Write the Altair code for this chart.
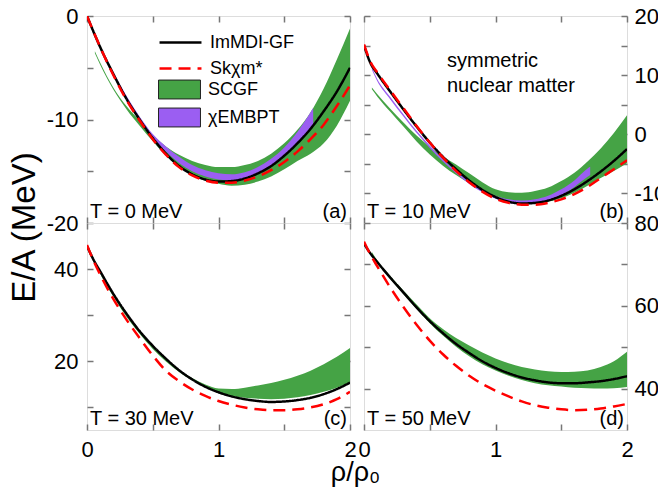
import altair as alt
import pandas as pd

# ---------------- data ----------------
RHO = [0.0, 0.1, 0.2, 0.3, 0.4, 0.5, 0.6, 0.7, 0.8, 0.9, 1.0,
       1.1, 1.2, 1.3, 1.4, 1.5, 1.6, 1.7, 1.8, 1.9, 2.0]
RHO_T = [0.0, 0.05, 0.1, 0.2, 0.3, 0.4, 0.5, 0.6, 0.7, 0.8, 0.9, 1.0,
         1.1, 1.2, 1.3, 1.4, 1.5, 1.6, 1.7, 1.8, 1.9, 2.0]

MODELS = ["ImMDI-GF", "Skχm*"]
BANDS = ["SCGF", "χEMBPT"]
TEMPS = ["T = 0 MeV", "T = 10 MeV", "T = 30 MeV", "T = 50 MeV"]
TAGS = ["(a)", "(b)", "(c)", "(d)"]
NOTE = ["symmetric", "nuclear matter"]

# (a) T = 0
A_IMMDI = [0.0, -3.0, -5.6, -8.0, -10.0, -11.8, -13.3, -14.5, -15.3, -15.8, -16.0,
           -15.95, -15.7, -15.2, -14.5, -13.5, -12.3, -10.9, -9.2, -7.3, -5.0]
A_SKCHI = [0.0, -3.0, -5.7, -8.1, -10.1, -11.9, -13.4, -14.6, -15.4, -15.9, -16.1,
           -16.1, -15.9, -15.5, -14.9, -14.1, -13.1, -11.9, -10.5, -8.7, -6.7]
A_SCGF_X = [0.06, 0.1, 0.2, 0.3, 0.4, 0.5, 0.6, 0.7, 0.8, 0.9, 1.0,
            1.1, 1.2, 1.3, 1.4, 1.5, 1.6, 1.7, 1.8, 1.9, 2.0]
A_SCGF_LO = [-3.6, -4.7, -7.1, -9.0, -10.6, -12.1, -13.5, -14.6, -15.4, -15.9, -16.2,
             -16.4, -16.3, -16.0, -15.5, -14.8, -14.0, -13.3, -12.3, -10.6, -8.2]
A_SCGF_HI = [-3.4, -4.5, -6.9, -8.7, -10.1, -11.5, -12.6, -13.4, -14.0, -14.4, -14.6,
             -14.6, -14.4, -14.0, -13.3, -12.3, -11.0, -9.3, -7.0, -4.2, -1.2]
A_CHI_X = [0.03, 0.1, 0.2, 0.3, 0.4, 0.5, 0.6, 0.7, 0.8, 0.9, 1.0,
           1.1, 1.2, 1.3, 1.4, 1.5, 1.6, 1.7, 1.72]
A_CHI_LO = [-1.1, -3.1, -5.7, -8.0, -10.0, -11.8, -13.1, -14.2, -15.0, -15.5, -15.8,
            -15.9, -15.7, -15.2, -14.5, -13.5, -12.2, -10.9, -10.6]
A_CHI_HI = [-0.9, -2.9, -5.4, -7.7, -9.7, -11.4, -12.6, -13.6, -14.4, -14.9, -15.2,
            -15.3, -15.1, -14.6, -13.8, -12.7, -11.2, -9.3, -8.9]

# (b) T = 10
B_IMMDI = [15.0, 12.0, 10.3, 7.2, 4.2, 1.3, -1.4, -3.8, -5.9, -7.8, -9.4, -10.6,
           -11.4, -11.7, -11.6, -11.2, -10.4, -9.3, -7.9, -6.3, -4.5, -2.5]
B_SKCHI = [15.2, 12.2, 10.5, 7.4, 4.4, 1.4, -1.4, -3.9, -6.2, -8.1, -9.7, -10.9,
           -11.6, -11.9, -11.9, -11.6, -11.0, -10.1, -8.9, -7.4, -5.9, -4.4]
B_SCGF_X = [0.06, 0.1, 0.2, 0.3, 0.4, 0.5, 0.6, 0.7, 0.8, 0.9, 1.0,
            1.1, 1.2, 1.3, 1.4, 1.5, 1.6, 1.7, 1.8, 1.9, 2.0]
B_SCGF_LO = [7.6, 6.4, 3.8, 1.3, -1.2, -3.4, -5.3, -6.9, -8.3, -9.6, -10.7,
             -11.4, -11.8, -11.8, -11.4, -10.8, -9.9, -8.7, -7.4, -6.2, -4.9]
B_SCGF_HI = [7.9, 6.8, 4.3, 2.0, -0.2, -2.1, -3.7, -5.1, -6.6, -8.1, -9.3,
             -9.8, -9.9, -9.6, -9.0, -7.9, -6.5, -4.6, -2.4, 0.2, 3.2]
B_CHI_X = [0.06, 0.1, 0.2, 0.3, 0.4, 0.5, 0.6, 0.7, 0.8, 0.9, 1.0,
           1.1, 1.2, 1.3, 1.4, 1.5, 1.6, 1.7, 1.72]
B_CHI_LO = [10.9, 9.0, 5.9, 3.0, 0.2, -2.3, -4.6, -6.6, -8.4, -9.8, -10.9,
            -11.6, -11.8, -11.7, -11.2, -10.3, -8.9, -7.2, -6.9]
B_CHI_HI = [11.3, 9.4, 6.3, 3.4, 0.6, -1.9, -4.2, -6.2, -7.9, -9.3, -10.4,
            -11.0, -11.2, -11.0, -10.4, -9.3, -7.8, -5.8, -5.5]

# (c) T = 30
C_IMMDI = [45.0, 42.0, 39.5, 34.6, 30.3, 26.5, 23.3, 20.5, 18.0, 16.0, 14.4, 13.2,
           12.3, 11.7, 11.3, 11.1, 11.2, 11.5, 12.0, 12.8, 13.9, 15.3]
C_SKCHI = [45.2, 41.8, 38.8, 33.5, 29.0, 25.0, 21.2, 17.9, 15.6, 13.8, 12.4, 11.3,
           10.5, 9.9, 9.5, 9.3, 9.3, 9.5, 9.9, 10.6, 11.7, 13.3]
C_SCGF_X = [0.08, 0.1, 0.2, 0.3, 0.4, 0.5, 0.6, 0.7, 0.8, 0.9, 1.0,
            1.1, 1.2, 1.3, 1.4, 1.5, 1.6, 1.7, 1.8, 1.9, 2.0]
C_SCGF_LO = [40.3, 39.0, 34.0, 29.6, 25.9, 22.6, 19.9, 17.6, 15.8, 14.4, 13.0,
             12.4, 12.0, 11.8, 11.7, 11.8, 12.1, 12.6, 13.3, 14.2, 15.3]
C_SCGF_HI = [40.6, 39.3, 34.4, 30.1, 26.4, 23.1, 20.4, 18.1, 16.3, 14.9, 14.0,
             13.9, 14.2, 14.7, 15.2, 15.9, 16.8, 17.9, 19.3, 20.9, 22.8]

# (d) T = 50
D_IMMDI = [75.0, 72.6, 70.6, 66.8, 63.2, 59.6, 56.3, 53.4, 50.8, 48.6, 46.6, 45.0,
           43.7, 42.7, 42.0, 41.5, 41.3, 41.3, 41.5, 41.8, 42.3, 43.0]
D_SKCHI = [75.5, 72.3, 69.6, 64.4, 59.7, 55.4, 51.6, 48.3, 45.5, 43.1, 41.1, 39.5,
           38.1, 36.9, 36.0, 35.4, 35.0, 34.8, 34.9, 35.2, 35.7, 36.3]
D_SCGF_X = [0.06, 0.1, 0.2, 0.3, 0.4, 0.5, 0.6, 0.7, 0.8, 0.9, 1.0,
            1.1, 1.2, 1.3, 1.4, 1.5, 1.6, 1.7, 1.8, 1.9, 2.0]
D_SCGF_LO = [72.5, 70.4, 66.5, 62.8, 59.2, 55.8, 52.8, 50.1, 47.8, 45.9, 44.4,
             43.1, 42.1, 41.3, 40.8, 40.5, 40.2, 40.1, 40.0, 40.1, 40.4]
D_SCGF_HI = [73.0, 71.0, 67.2, 63.7, 60.3, 57.0, 54.4, 52.2, 50.4, 48.7, 47.3,
             46.1, 45.2, 44.6, 44.2, 44.0, 44.1, 44.4, 45.2, 46.6, 48.9]

# ---------------- styling ----------------
FONT = "Liberation Sans"
AX = "#777777"
GREEN = "#45a345"
PURPLE = "#9b5ef2"
LINE_COLORS = ["#000000", "#ff0000"]
DASHES = [[1, 0], [12, 7]]
W, H = 263, 207
XTICKS = [0, 0.5, 1, 1.5, 2]
LINE_SYMBOL = "M-2.33,0H2.33"
BOX_SYMBOL = "M-2.33,-1.05H2.33V1.05H-2.33Z"


def lines_frame(xs, immdi, skchi):
    rows = []
    for name, ys in zip(MODELS, [immdi, skchi]):
        for x, y in zip(xs, ys):
            rows.append({"x": x, "E": y, "model": name})
    return pd.DataFrame(rows)


def bands_frame(parts):
    rows = []
    for name, (xs, lo, hi) in parts:
        for x, a, b in zip(xs, lo, hi):
            rows.append({"x": x, "lo": a, "hi": b, "band": name})
    return pd.DataFrame(rows)


def axis(orient, values, show_labels, expr, pad=9, **extra):
    return alt.Axis(
        orient=orient, values=values, labels=show_labels, labelExpr=expr,
        domain=False, grid=False, ticks=True, tickSize=6, offset=-6,
        tickColor=AX, tickWidth=1.5, labelFont=FONT, labelFontSize=22,
        labelColor="black", labelPadding=pad, labelFlush=False,
        labelOverlap=False, labelBound=False, **extra)


def panel(i, lines, bands, ydom, yvals, ystep, left_col, bottom_row,
          with_legend=False, ytitle=False, xtitle=False, note=False):
    xs = alt.Scale(domain=[0, 2], nice=False, zero=False)
    ys = alt.Scale(domain=ydom, nice=False, zero=False)
    xexpr = "datum.value == round(datum.value) ? '' + datum.value : ''"
    yexpr = f"datum.value % {ystep} == 0 ? '' + datum.value : ''"

    if xtitle:
        ax_b = axis("bottom", XTICKS, bottom_row, xexpr, title="ρ/ρ₀",
                    titleFont=FONT, titleFontSize=27, titleFontWeight="normal",
                    titleColor="black", titleX=268, titleY=56,
                    titleAlign="center", titleBaseline="alphabetic")
    else:
        ax_b = axis("bottom", XTICKS, bottom_row, xexpr, title=None)
    ax_t = axis("top", XTICKS, False, xexpr, title=None)
    if ytitle:
        ax_l = axis("left", yvals, left_col, yexpr, title="E/A (MeV)",
                    titleFont=FONT, titleFontSize=33, titleFontWeight="normal",
                    titleColor="black", titleAngle=270, titleX=-59, titleY=211,
                    titleAlign="center", titleBaseline="alphabetic")
    else:
        ax_l = axis("left", yvals, left_col, yexpr, title=None)
    ax_r = axis("right", yvals, not left_col, yexpr, pad=7, title=None)

    if with_legend:
        common_leg = dict(orient="none", legendX=83, title=None, symbolSize=324,
                          labelFont=FONT, labelFontSize=18, labelColor="black",
                          labelOffset=19, padding=0)
        fill_enc = alt.Fill(
            "band:N", scale=alt.Scale(domain=BANDS, range=[GREEN, PURPLE]),
            legend=alt.Legend(legendY=64, symbolType=BOX_SYMBOL,
                              symbolStrokeColor="#222222", symbolStrokeWidth=1,
                              symbolOpacity=1, rowPadding=5, **common_leg))
        band_layer = alt.Chart(bands).mark_area(
            interpolate="monotone", clip=True, opacity=1).encode(
            x=alt.X("x:Q", scale=xs, axis=ax_b),
            y=alt.Y("lo:Q", scale=ys, axis=ax_l, stack=None),
            y2="hi:Q", fill=fill_enc)
        leg = dict(legendY=16, symbolType=LINE_SYMBOL, symbolStrokeWidth=2.5,
                   rowPadding=6, **common_leg)
        line_layer = alt.Chart(lines).mark_line(
            interpolate="monotone", strokeWidth=2.5, clip=True).encode(
            x=alt.X("x:Q", scale=xs, axis=ax_t),
            y=alt.Y("E:Q", scale=ys, axis=ax_r),
            stroke=alt.Stroke("model:N", scale=alt.Scale(domain=MODELS, range=LINE_COLORS),
                              legend=alt.Legend(**leg)),
            strokeDash=alt.StrokeDash("model:N", scale=alt.Scale(domain=MODELS, range=DASHES),
                                      legend=alt.Legend(**leg)))
        layers = [band_layer, line_layer]
    else:
        layers = []
        first = True
        for bname, col in zip(BANDS, [GREEN, PURPLE]):
            sub = bands[bands["band"] == bname]
            if len(sub) == 0:
                continue
            layers.append(alt.Chart(sub).mark_area(
                interpolate="monotone", clip=True, color=col).encode(
                x=alt.X("x:Q", scale=xs, axis=ax_b if first else None),
                y=alt.Y("lo:Q", scale=ys, axis=ax_l if first else None, stack=None),
                y2="hi:Q"))
            first = False
        for k, (mname, col, dash) in enumerate(zip(MODELS, LINE_COLORS, DASHES)):
            sub = lines[lines["model"] == mname]
            layers.append(alt.Chart(sub).mark_line(
                interpolate="monotone", strokeWidth=2.5, clip=True, color=col,
                strokeDash=dash).encode(
                x=alt.X("x:Q", scale=xs, axis=ax_t if k == 0 else None),
                y=alt.Y("E:Q", scale=ys, axis=ax_r if k == 0 else None)))

    lab = pd.DataFrame({"t": [TEMPS[i]], "g": [TAGS[i]]})
    layers.append(alt.Chart(lab).mark_text(
        align="left", baseline="alphabetic", font=FONT, fontSize=20, color="black").encode(
        x=alt.value(3), y=alt.value(H - 5), text="t:N"))
    layers.append(alt.Chart(lab).mark_text(
        align="right", baseline="alphabetic", font=FONT, fontSize=20, color="black").encode(
        x=alt.value(W - 3), y=alt.value(H - 5), text="g:N"))
    if note:
        layers.append(alt.Chart(lab).mark_text(
            align="left", baseline="alphabetic", font=FONT, fontSize=20,
            color="black", lineHeight=25).encode(
            x=alt.value(83), y=alt.value(51), text=alt.value(NOTE)))

    return alt.layer(*layers).resolve_axis(x="independent", y="independent").properties(
        width=W, height=H)


pa = panel(0, lines_frame(RHO, A_IMMDI, A_SKCHI),
           bands_frame([("SCGF", (A_SCGF_X, A_SCGF_LO, A_SCGF_HI)),
                        ("χEMBPT", (A_CHI_X, A_CHI_LO, A_CHI_HI))]),
           [-20, 0], [-20, -15, -10, -5, 0], 10, True, False,
           with_legend=True, ytitle=True)
pb = panel(1, lines_frame(RHO_T, B_IMMDI, B_SKCHI),
           bands_frame([("SCGF", (B_SCGF_X, B_SCGF_LO, B_SCGF_HI)),
                        ("χEMBPT", (B_CHI_X, B_CHI_LO, B_CHI_HI))]),
           [-15, 20], [-10, -5, 0, 5, 10, 15, 20], 10, False, False, note=True)
pc = panel(2, lines_frame(RHO_T, C_IMMDI, C_SKCHI),
           bands_frame([("SCGF", (C_SCGF_X, C_SCGF_LO, C_SCGF_HI))]),
           [5, 50], [10, 20, 30, 40], 20, True, True, xtitle=True)
pd_ = panel(3, lines_frame(RHO_T, D_IMMDI, D_SKCHI),
            bands_frame([("SCGF", (D_SCGF_X, D_SCGF_LO, D_SCGF_HI))]),
            [30, 80], [40, 50, 60, 70, 80], 20, False, True)

chart = alt.concat(pa, pb, pc, pd_, columns=2).properties(
    spacing=alt.RowColnumber(row=0, column=14),
    bounds="flush",
    autosize=alt.AutoSizeParams(type="none"),
    padding={"left": 79, "top": 8, "right": 571, "bottom": 472},
    background="white",
).configure_view(stroke=AX, strokeWidth=2).configure(font=FONT)

chart.save("out.html", embed_options={"renderer": "svg", "actions": False})
